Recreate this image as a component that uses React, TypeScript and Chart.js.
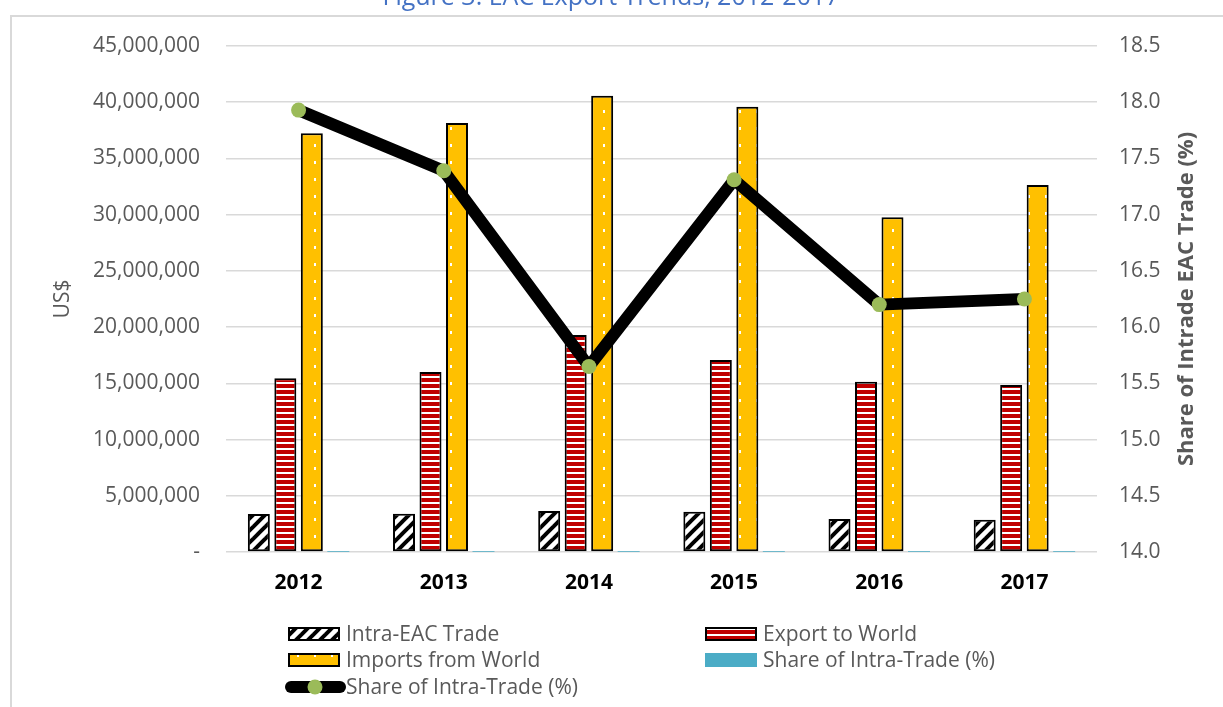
import React, { useEffect, useRef } from 'react';
import { Chart, registerables } from 'chart.js';

Chart.register(...registerables);

const TITLE = 'Figure 3: EAC Export Trends, 2012-2017';
const years = ['2012', '2013', '2014', '2015', '2016', '2017'];
const intraEAC = [3380000, 3400000, 3650000, 3580000, 2930000, 2870000];
const exportWorld = [15450000, 16000000, 19300000, 17080000, 15150000, 14850000];
const importsWorld = [37240000, 38150000, 40580000, 39600000, 29770000, 32640000];
const shareIntra = [17.93, 17.39, 15.65, 17.31, 16.2, 16.25];
const seriesLabels = ['Intra-EAC Trade', 'Export to World', 'Imports from World', 'Share of Intra-Trade (%)', 'Share of Intra-Trade (%)'];
const leftAxisTitle = 'US$';
const rightAxisTitle = 'Share of Intrade EAC Trade (%)';

const GRAY = '#595959';
const FONT = '"Open Sans", "DejaVu Sans", sans-serif';

function makeHatch(): CanvasPattern | string {
  const c = document.createElement('canvas');
  c.width = 12; c.height = 12;
  const g = c.getContext('2d');
  if (!g) return '#fff';
  g.fillStyle = '#fff';
  g.fillRect(0, 0, 12, 12);
  g.strokeStyle = '#000';
  g.lineWidth = 4;
  for (const off of [-12, 0, 12]) {
    g.beginPath();
    g.moveTo(off - 2, 14);
    g.lineTo(off + 14, -2);
    g.stroke();
  }
  return g.createPattern(c, 'repeat') || '#fff';
}

function makeRedStripes(): CanvasPattern | string {
  const c = document.createElement('canvas');
  c.width = 6; c.height = 6;
  const g = c.getContext('2d');
  if (!g) return '#C00000';
  g.fillStyle = '#fff';
  g.fillRect(0, 0, 6, 6);
  g.fillStyle = '#C00000';
  g.fillRect(0, 0, 6, 4);
  return g.createPattern(c, 'repeat') || '#C00000';
}

function makeDots(): CanvasPattern | string {
  const c = document.createElement('canvas');
  c.width = 17; c.height = 17;
  const g = c.getContext('2d');
  if (!g) return '#FFC000';
  g.fillStyle = '#FFC000';
  g.fillRect(0, 0, 17, 17);
  g.fillStyle = '#fff';
  g.fillRect(8, 8, 2, 3);
  return g.createPattern(c, 'repeat') || '#FFC000';
}

const framePlugin = {
  id: 'frameAndTitle',
  beforeDraw(chart: any) {
    const ctx = chart.ctx;
    ctx.save();
    ctx.fillStyle = '#fff';
    ctx.fillRect(0, 0, chart.width, chart.height);
    ctx.fillStyle = '#D9D9D9';
    ctx.fillRect(10, 15, chart.width, 2);
    ctx.fillRect(10, 15, 2, chart.height);
    ctx.restore();
  },
  afterDraw(chart: any) {
    const ctx = chart.ctx;
    ctx.save();
    ctx.font = `25px ${FONT}`;
    ctx.fillStyle = '#4472C4';
    ctx.textAlign = 'center';
    ctx.textBaseline = 'alphabetic';
    ctx.fillText(TITLE, 611, 5);
    ctx.restore();
    // right axis title, reading bottom-to-top
    const y1 = chart.scales.y1;
    ctx.save();
    ctx.font = `bold 22px ${FONT}`;
    ctx.fillStyle = GRAY;
    ctx.textAlign = 'center';
    ctx.textBaseline = 'middle';
    ctx.translate(1187, (y1.top + y1.bottom) / 2);
    ctx.rotate(-Math.PI / 2);
    ctx.fillText(rightAxisTitle, 0, 0);
    ctx.restore();
  },
};

const legendPlugin = {
  id: 'gridLegend',
  afterDraw(chart: any) {
    const ctx = chart.ctx;
    const ds = chart.data.datasets;
    const items = [
      { i: 0, x: 288, y: 634 },
      { i: 1, x: 705, y: 634 },
      { i: 2, x: 288, y: 660 },
      { i: 3, x: 705, y: 660 },
      { i: 4, x: 288, y: 687 },
    ];
    ctx.save();
    ctx.font = `21px ${FONT}`;
    ctx.textBaseline = 'middle';
    ctx.textAlign = 'left';
    for (const it of items) {
      const d = ds[it.i];
      if (d.type === 'line') {
        ctx.strokeStyle = d.borderColor;
        ctx.lineWidth = 12;
        ctx.lineCap = 'round';
        ctx.beginPath();
        ctx.moveTo(it.x + 3, it.y);
        ctx.lineTo(it.x + 52, it.y);
        ctx.stroke();
        ctx.fillStyle = d.pointBackgroundColor;
        ctx.beginPath();
        ctx.arc(it.x + 27, it.y, 7.5, 0, Math.PI * 2);
        ctx.fill();
        ctx.fillStyle = GRAY;
        ctx.fillText(d.label, it.x + 58, it.y + 1);
      } else {
        ctx.fillStyle = d.backgroundColor;
        ctx.fillRect(it.x, it.y - 7, 52, 14);
        if (d.borderWidth > 0) {
          ctx.strokeStyle = '#000';
          ctx.lineWidth = 2;
          ctx.strokeRect(it.x + 1, it.y - 6, 50, 12);
        }
        ctx.fillStyle = GRAY;
        ctx.fillText(d.label, it.x + 58, it.y + 1);
      }
    }
    ctx.restore();
  },
};

export default function App() {
  const ref = useRef<HTMLCanvasElement | null>(null);

  useEffect(() => {
    if (!ref.current) return;
    const hatch = makeHatch();
    const red = makeRedStripes();
    const dots = makeDots();
    const barCommon = {
      type: 'bar' as const,
      borderColor: '#000',
      borderWidth: 2,
      borderSkipped: false,
      categoryPercentage: 0.73,
      barPercentage: 0.83,
      yAxisID: 'y',
      order: 2,
    };
    const chart = new Chart(ref.current, {
      type: 'bar',
      data: {
        labels: years,
        datasets: [
          { ...barCommon, label: seriesLabels[0], data: intraEAC, backgroundColor: hatch },
          { ...barCommon, label: seriesLabels[1], data: exportWorld, backgroundColor: red },
          { ...barCommon, label: seriesLabels[2], data: importsWorld, backgroundColor: dots },
          { ...barCommon, label: seriesLabels[3], data: shareIntra, backgroundColor: '#4BACC6', borderWidth: 0, inflateAmount: 0 },
          {
            type: 'line',
            label: seriesLabels[4],
            data: shareIntra,
            yAxisID: 'y1',
            borderColor: '#000',
            borderWidth: 12,
            borderJoinStyle: 'round',
            borderCapStyle: 'round',
            pointRadius: 7.5,
            pointBorderWidth: 0,
            pointBackgroundColor: '#9BBB59',
            pointBorderColor: '#9BBB59',
            tension: 0,
            order: 0,
          } as any,
        ],
      },
      options: {
        responsive: false,
        animation: false,
        devicePixelRatio: 1,
        layout: { padding: { top: 46, left: 0, right: 0, bottom: 105 } },
        plugins: {
          legend: { display: false },
          title: { display: false },
          tooltip: { enabled: false },
        },
        scales: {
          x: {
            grid: { display: false, drawTicks: false },
            border: { display: false },
            ticks: { color: '#000', font: { family: FONT, size: 21, weight: 'bold' }, padding: 18 },
            afterFit(scale: any) { scale.height = 50; },
          },
          y: {
            position: 'left',
            min: 0,
            max: 45000000,
            ticks: {
              stepSize: 5000000,
              color: GRAY,
              font: { family: FONT, size: 21 },
              padding: 26,
              callback: (v: any) => (Number(v) === 0 ? '-' : Number(v).toLocaleString('en-US')),
            },
            grid: { color: '#D9D9D9', lineWidth: 1.5, drawTicks: false },
            border: { display: false },
            title: {
              display: true,
              text: leftAxisTitle,
              color: GRAY,
              font: { family: FONT, size: 21 },
              padding: { top: 50, bottom: 0 },
            },
            afterFit(scale: any) { scale.width = 226; },
          },
          y1: {
            position: 'right',
            min: 14,
            max: 18.5,
            ticks: {
              stepSize: 0.5,
              color: GRAY,
              font: { family: FONT, size: 21 },
              padding: 22,
              callback: (v: any) => Number(v).toFixed(1),
            },
            grid: { display: false, drawTicks: false },
            border: { display: false },
            title: { display: false },
            afterFit(scale: any) { scale.width = 126; },
          },
        },
      } as any,
      plugins: [framePlugin, legendPlugin],
    });
    return () => chart.destroy();
  }, []);

  return (
    <div style={{ position: 'fixed', left: 0, top: 0, width: 1223, height: 707, background: '#fff', overflow: 'hidden' }}>
      <canvas ref={ref} width={1223} height={707} style={{ display: 'block', width: 1223, height: 707 }} />
    </div>
  );
}
